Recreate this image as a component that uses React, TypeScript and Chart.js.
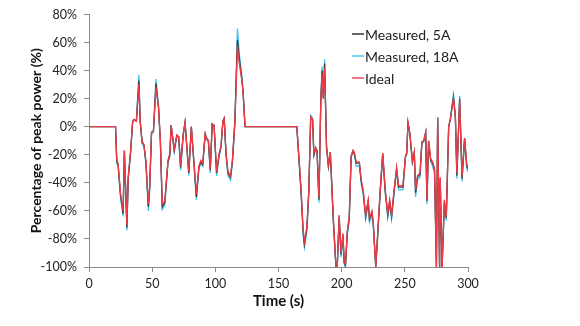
import React, { useEffect, useRef } from "react";
import { Chart, registerables } from "chart.js";

Chart.register(...registerables);

const times = [0,21,22,23,25,27,28,30,31,33,34.5,35.5,37.5,39.5,40.5,42,43.5,45,47,48,49.5,51,53,55,56.5,58,60,62.5,64,65,67.5,69.5,71,72.5,74.5,76,79,81,83,85,87,88.5,90,92,93,94.5,96,97.5,99,101,103,104.5,106,107,108.5,110,112,113.5,115.5,117.5,119,121,122,123.5,164.5,166.5,168,169.5,170.5,172.5,174,175.5,177,178,179.5,180.5,182,183.5,184.5,185.5,186.5,188,189.5,191,193.5,195.5,196.5,198,199.5,201,202,203,204.5,206,207.5,209,210,211.5,214,215.5,217,219,221,222,224,225,227,228.5,230.5,232.5,234.5,236.5,238,239.5,241.5,243.5,245,248.5,250.5,251.5,252.5,254,256,257.5,258.5,260,262,263.5,265,266.5,267.5,268.8,270.5,272,273.5,275,276,277.5,278,279.5,281.3,282.8,284.7,286,288.5,290,291.2,293.4,295.3,297.3,299,300];

const measured5A = [0,0,-25,-27,-49,-62,-17,-72,-37,-17,3,5,4,33,4,-11,-13,-25,-57,-44,-4,-3,31,14,-10,-57,-54,-25,-20,1,-17,-6,-7,-29,-6,3,-33,0,-25,-50,-29,-25,-27,-5,-8,-10,-31,2,1,-33,-20,-14,4,6,-20,-33,-36,-25,4,62,48,34,24,0,0,-27,-48,-75,-84,-72,-46,7,5,-20,-15,-17,-52,19,40,20,45,-14,-28,-18,-68,-100,-100,-64,-91,-77,-97,-99,-75,-65,-21,-17,-19,-26,-26,-39,-46,-64,-53,-66,-61,-69,-100,-77,-46,-19,-46,-63,-53,-64,-46,-30,-43,-43,-21,-19,3,-5,-25,-18,-47,-36,-34,-11,-10,-4,-53,-10,-24,-26,-31,-100,6,-100,-37,-100,-53,-65,0,5,21,7,-35,20,-37,-8,-28,-30];

const measured18A = [0,0,-26,-28,-51,-64,-18,-74,-38,-18,3,5,4,37,4,-12,-14,-26,-60,-46,-5,-4,34,15,-11,-59,-56,-26,-21,1,-18,-7,-8,-31,-7,3,-35,0,-26,-52,-30,-26,-28,-6,-9,-11,-33,2,1,-35,-21,-15,4,6,-21,-35,-38,-26,4,70,52,36,25,0,0,-28,-50,-77,-86,-74,-47,8,6,-21,-16,-18,-54,20,43,21,48,-15,-29,-19,-70,-100,-100,-66,-93,-79,-98,-100,-77,-67,-22,-18,-20,-28,-28,-41,-48,-66,-55,-68,-63,-71,-100,-79,-48,-20,-48,-65,-55,-66,-48,-31,-45,-45,-22,-20,3,-6,-26,-19,-50,-38,-36,-12,-11,-5,-55,-11,-25,-28,-33,-100,7,-100,-39,-100,-55,-67,0,6,23,8,-37,22,-39,-9,-30,-32];

const ideal = [0,0,-24,-26,-48,-60,-17,-70,-36,-17,3,5,4,30,4,-10,-13,-24,-55,-43,-4,-3,28,14,-10,-55,-53,-24,-19,1,-16,-6,-7,-28,-6,3,-32,0,-24,-48,-28,-24,-26,-5,-8,-10,-30,2,1,-32,-19,-14,4,6,-19,-32,-35,-24,4,57,45,33,24,0,0,-26,-47,-73,-82,-71,-45,7,5,-19,-15,-17,-50,19,38,20,42,-14,-27,-18,-67,-100,-100,-63,-90,-76,-96,-98,-74,-64,-21,-17,-18,-25,-25,-38,-45,-63,-52,-65,-60,-68,-100,-76,-45,-19,-45,-62,-52,-63,-45,-29,-42,-42,-21,-19,3,-5,-24,-18,-45,-35,-33,-11,-10,-4,-52,-10,-23,-25,-30,-100,6,-100,-36,-100,-52,-64,0,5,20,7,-33,19,-35,-8,-27,-29];

const seriesNames = ["Measured, 5A", "Measured, 18A", "Ideal"];
const seriesColors = ["#3a3a3a", "#3cc4ee", "#ee3b45"];
const legendColors = ["#666666", "#7fd6f2", "#f27a80"];

const FONT = "Lato, 'Open Sans', sans-serif";

export default function App() {
  const canvasRef = useRef<HTMLCanvasElement | null>(null);

  useEffect(() => {
    const canvas = canvasRef.current;
    if (!canvas) return;
    const toPoints = (vals: number[]) => vals.map((v, i) => ({ x: times[i], y: v }));
    const chart = new Chart(canvas, {
      type: "line",
      data: {
        datasets: [
          { label: seriesNames[2], data: toPoints(ideal), borderColor: seriesColors[2], borderWidth: 1.3, pointRadius: 0, order: 0 },
          { label: seriesNames[0], data: toPoints(measured5A), borderColor: seriesColors[0], borderWidth: 1.3, pointRadius: 0, order: 1 },
          { label: seriesNames[1], data: toPoints(measured18A), borderColor: seriesColors[1], borderWidth: 1.3, pointRadius: 0, order: 2 },
        ],
      },
      options: {
        animation: false,
        responsive: false,
        maintainAspectRatio: false,
        layout: { padding: { left: 0, top: 14, right: 112, bottom: 0 } },
        plugins: { legend: { display: false }, tooltip: { enabled: false } },
        scales: {
          x: {
            type: "linear",
            min: 0,
            max: 300,
            afterFit: (s: any) => { s.height = 59; },
            grid: { drawOnChartArea: false, drawTicks: true, tickLength: 5, color: "#8a8a8a" },
            border: { display: true, color: "#8a8a8a", width: 1 },
            ticks: { stepSize: 50, color: "#222", font: { family: FONT, size: 12.5 }, padding: 4, maxRotation: 0 },
            title: { display: true, text: "Time (s)", color: "#111", font: { family: FONT, size: 15, weight: "bold" }, padding: { top: 0, bottom: 16 } },
          },
          y: {
            min: -100,
            max: 80,
            afterFit: (s: any) => { s.width = 89; },
            grid: { drawOnChartArea: false, drawTicks: true, tickLength: 5, color: "#8a8a8a" },
            border: { display: true, color: "#8a8a8a", width: 1 },
            ticks: { stepSize: 20, color: "#222", font: { family: FONT, size: 12.5 }, padding: 7, callback: (v: any) => v + "%" },
            title: { display: true, text: "Percentage of peak power (%)", color: "#111", font: { family: FONT, size: 14, weight: "bold" }, padding: { top: 28, bottom: 0 } },
          },
        },
      },
    });
    return () => chart.destroy();
  }, []);

  const legendRows = [0, 1, 2];
  const rowY = [34, 56, 78];

  return (
    <div style={{ position: "fixed", left: 0, top: 0, width: 580, height: 326, background: "#fff" }}>
      <canvas ref={canvasRef} width={580} height={326} style={{ width: 580, height: 326, display: "block" }} />
      {legendRows.map((i) => (
        <div key={i} style={{ position: "absolute", left: 352, top: rowY[i] - 9, height: 18, display: "flex", alignItems: "center", fontFamily: FONT, fontSize: 14, color: "#222", whiteSpace: "nowrap" }}>
          <span style={{ display: "inline-block", width: 12, height: 1.5, background: legendColors[i], marginRight: 1 }} />
          <span>{seriesNames[i]}</span>
        </div>
      ))}
    </div>
  );
}
